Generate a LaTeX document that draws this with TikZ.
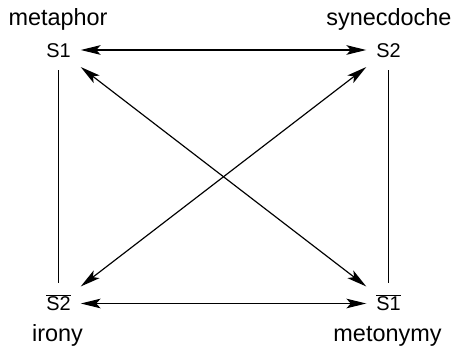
\documentclass[tikz,border=0pt]{standalone}
\usepackage{fontspec}
\setmainfont{Liberation Sans}
\usetikzlibrary{arrows.meta, positioning}

\begin{document}
\begin{tikzpicture}[x=0.03cm, y=-0.03cm,
  sym/.style={font=\fontsize{17}{20}\selectfont, text height=0.43cm, text depth=0pt, minimum width=1.32cm, minimum height=1.2cm, inner sep=0pt},
  lbl/.style={font=\fontsize{20}{24}\selectfont, anchor=base, inner sep=0pt},
  arr/.style={{Stealth[length=6mm, width=2.9mm, inset=1.4mm]}-{Stealth[length=6mm, width=2.9mm, inset=1.4mm]}, line width=1pt},
  ln/.style={line width=1pt}
]
\useasboundingbox (0,0) rectangle (454,347);
\node[sym] (s1) at (58.5,50) {S1};
\node[sym] (s2) at (388.5,50) {S2};
\node[sym] (ns2) at (58.5,303.5) {$\overline{\mbox{S2}}$};
\node[sym] (ns1) at (388.5,303.5) {$\overline{\mbox{S1}}$};
\node[lbl] (metaphor) at (58,26) {metaphor};
\node[lbl] (synecdoche) at (389,26) {synecdoche};
\node[lbl] (irony) at (57.5,341) {irony};
\node[lbl] (metonymy) at (387.5,341) {metonymy};
\draw[arr] (s1) -- (s2);
\draw[arr] (ns2) -- (ns1);
\draw[arr] (s1) -- (ns1);
\draw[arr] (s2) -- (ns2);
\draw[ln] (s1) -- (ns2);
\draw[ln] (s2) -- (ns1);
\end{tikzpicture}
\end{document}
